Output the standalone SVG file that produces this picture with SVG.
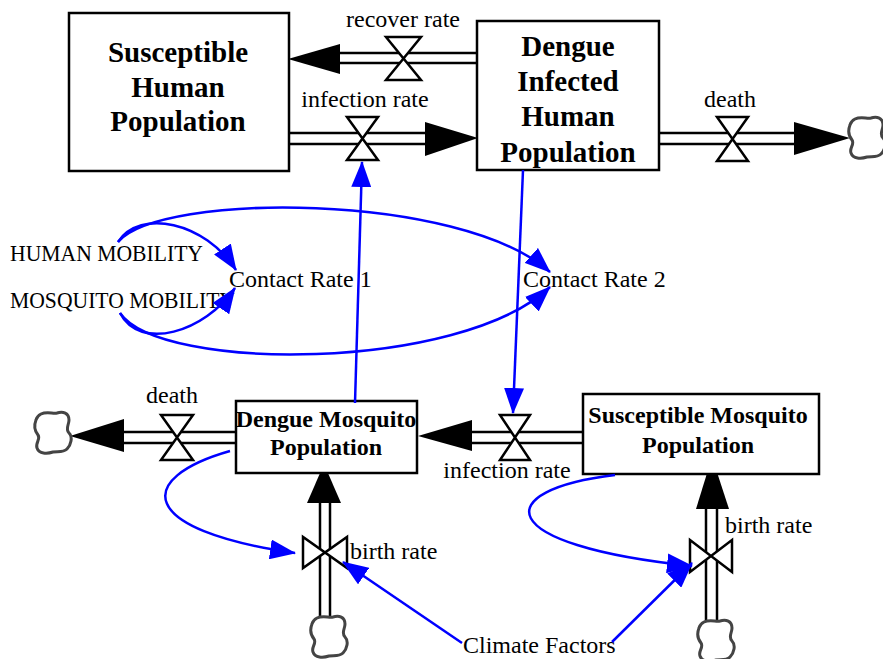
<svg xmlns="http://www.w3.org/2000/svg" xmlns:xlink="http://www.w3.org/1999/xlink" width="883" height="659" viewBox="0 0 883 659">
<style>
.box{fill:#fff;stroke:#000;stroke-width:2.5}
.nt{font-family:"Liberation Serif","Times New Roman",serif;font-weight:bold;font-size:29px;text-anchor:middle;fill:#000}
.nts{font-family:"Liberation Serif","Times New Roman",serif;font-weight:bold;font-size:24px;text-anchor:middle;fill:#000}
.lb{font-family:"Liberation Serif","Times New Roman",serif;font-size:24px;fill:#000}
.pipe{stroke:#000;stroke-width:2.5;fill:none}
.valve{fill:#fff;stroke:#000;stroke-width:2.5;stroke-linejoin:miter}
.head{fill:#000}
.link{stroke:#0000ff;stroke-width:2.5;fill:none;marker-end:url(#ba)}
.cloud{fill:#fff;stroke:#444;stroke-width:3}
</style>
<defs>
<marker id="ba" viewBox="0 0 26 20" refX="25" refY="10" markerWidth="26" markerHeight="20" markerUnits="userSpaceOnUse" orient="auto">
<path d="M0,0 L26,10 L0,20 Z" fill="#0000ff"/>
</marker>
<path id="cl" class="cloud" d="M-12,-19 C-6,-22 0,-19 4,-20 C10,-22 16,-20 16,-13 C16,-8 12,-4 16,0 C20,4 18,12 14,16 C10,20 4,18 0,19 C-6,21 -14,21 -16,15 C-18,10 -12,6 -15,2 C-19,-3 -19,-8 -17,-13 C-16,-17 -14,-18 -12,-19 Z"/>
</defs>
<rect width="883" height="659" fill="#fff"/>

<g id="flows">
  <!-- recover rate -->
  <line class="pipe" x1="338" y1="53" x2="477" y2="53"/>
  <line class="pipe" x1="338" y1="63" x2="477" y2="63"/>
  <polygon class="head" points="288,59 340,44 340,74"/>
  <path class="valve" d="M386,37 H421 L386,80 H421 Z"/>
  <!-- human infection rate -->
  <line class="pipe" x1="289" y1="133" x2="427" y2="133"/>
  <line class="pipe" x1="289" y1="144" x2="427" y2="144"/>
  <polygon class="head" points="478,138 425,122 425,156"/>
  <path class="valve" d="M347,117 H378 L347,160 H378 Z"/>
  <!-- human death -->
  <line class="pipe" x1="659" y1="133" x2="796" y2="133"/>
  <line class="pipe" x1="659" y1="144" x2="796" y2="144"/>
  <polygon class="head" points="850,138 794,122 794,155"/>
  <path class="valve" d="M717,117 H748 L717,161 H748 Z"/>
  <!-- mosquito death -->
  <line class="pipe" x1="122" y1="432" x2="236" y2="432"/>
  <line class="pipe" x1="122" y1="443" x2="236" y2="443"/>
  <polygon class="head" points="70,436 124,419 124,452"/>
  <path class="valve" d="M161,415 H193 L161,460 H193 Z"/>
  <!-- mosquito infection rate -->
  <line class="pipe" x1="470" y1="432" x2="583" y2="432"/>
  <line class="pipe" x1="470" y1="443" x2="583" y2="443"/>
  <polygon class="head" points="418,436 472,420 472,451"/>
  <path class="valve" d="M500,415 H530 L500,460 H530 Z"/>
  <!-- dengue mosquito birth -->
  <line class="pipe" x1="320" y1="501" x2="320" y2="617"/>
  <line class="pipe" x1="330" y1="501" x2="330" y2="617"/>
  <polygon class="head" points="324,464 307,503 341,503"/>
  <path class="valve" d="M303,537 V568 L347,537 V568 Z"/>
  <!-- susceptible mosquito birth -->
  <line class="pipe" x1="706" y1="507" x2="706" y2="624"/>
  <line class="pipe" x1="717" y1="507" x2="717" y2="624"/>
  <polygon class="head" points="712,457 696,509 729,509"/>
  <path class="valve" d="M690,540 V572 L732,540 V572 Z"/>
</g>

<g id="clouds">
  <use xlink:href="#cl" href="#cl" transform="translate(867,138)"/>
  <use xlink:href="#cl" href="#cl" transform="translate(53,433)"/>
  <use xlink:href="#cl" href="#cl" transform="translate(329,637)"/>
  <use xlink:href="#cl" href="#cl" transform="translate(716,641)"/>
</g>

<g id="node-susceptible-human">
  <rect class="box" x="69" y="13" width="220" height="158"/>
  <text class="nt" x="178" y="62">Susceptible</text>
  <text class="nt" x="178" y="97">Human</text>
  <text class="nt" x="178" y="131">Population</text>
</g>
<g id="node-dengue-infected-human">
  <rect class="box" x="477" y="21" width="182" height="149"/>
  <text class="nt" x="568" y="56">Dengue</text>
  <text class="nt" x="568" y="91">Infected</text>
  <text class="nt" x="568" y="126">Human</text>
  <text class="nt" x="568" y="162">Population</text>
</g>
<g id="node-dengue-mosquito">
  <rect class="box" x="236" y="401" width="181" height="72"/>
  <text class="nts" x="326" y="427">Dengue Mosquito</text>
  <text class="nts" x="326" y="455">Population</text>
</g>
<g id="node-susceptible-mosquito">
  <rect class="box" x="583" y="394" width="236" height="80"/>
  <text class="nts" x="698" y="423">Susceptible Mosquito</text>
  <text class="nts" x="698" y="453">Population</text>
</g>

<g id="labels">
  <text class="lb" x="403" y="27" text-anchor="middle">recover rate</text>
  <text class="lb" x="365" y="107" text-anchor="middle">infection rate</text>
  <text class="lb" x="730" y="107" text-anchor="middle">death</text>
  <text class="lb" x="172" y="403" text-anchor="middle">death</text>
  <text class="lb" x="507" y="478" text-anchor="middle">infection rate</text>
  <text class="lb" x="350" y="559">birth rate</text>
  <text class="lb" x="725" y="533">birth rate</text>
</g>
<g id="node-human-mobility">
  <text class="lb" x="10" y="261" font-size="21.5" textLength="193" lengthAdjust="spacingAndGlyphs">HUMAN MOBILITY</text>
</g>
<g id="node-mosquito-mobility">
  <text class="lb" x="10" y="308" font-size="21.5" textLength="225" lengthAdjust="spacingAndGlyphs">MOSQUITO MOBILITY</text>
</g>
<g id="node-contact-rate-1">
  <text class="lb" x="229" y="287">Contact Rate 1</text>
</g>
<g id="node-contact-rate-2">
  <text class="lb" x="523" y="287">Contact Rate 2</text>
</g>
<g id="node-climate-factors">
  <text class="lb" x="463" y="653">Climate Factors</text>
</g>

<g id="connectors">
  <path class="link" d="M118,242 C140,208 205,222 236,270"/>
  <path class="link" d="M118,242 C160,192 460,192 550,272"/>
  <path class="link" d="M120,313 C140,352 205,332 235,288"/>
  <path class="link" d="M120,313 C160,372 460,372 550,287"/>
  <path class="link" d="M355,403 L362,162"/>
  <path class="link" d="M523,170 L513,413"/>
  <path class="link" d="M230,451 C135,478 135,530 295,553"/>
  <path class="link" d="M615,475 C490,490 490,545 692,566"/>
  <path class="link" d="M462,643 L343,562"/>
  <path class="link" d="M612,642 L692,563"/>
</g>
</svg>
